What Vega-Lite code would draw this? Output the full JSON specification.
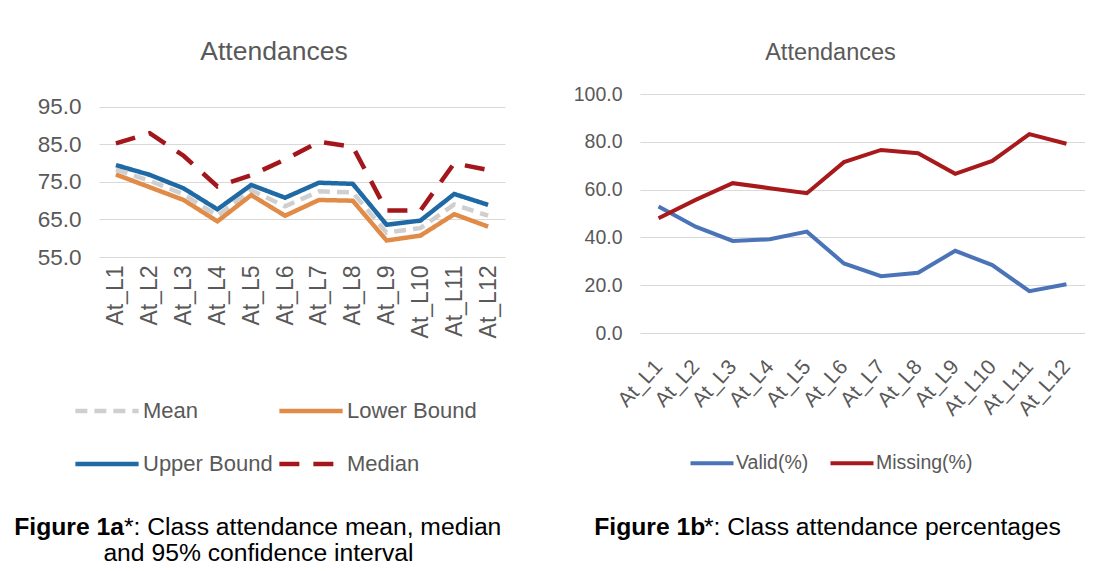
{
  "$schema": "https://vega.github.io/schema/vega-lite/v6.json",
  "background": "white",
  "padding": {"left": 14, "top": 38, "right": 0, "bottom": 0},
  "datasets": {
    "a": [
      {"lesson": "At_L1", "series": "Mean", "value": 78.3},
      {"lesson": "At_L2", "series": "Mean", "value": 75.3},
      {"lesson": "At_L3", "series": "Mean", "value": 71.7},
      {"lesson": "At_L4", "series": "Mean", "value": 66.0},
      {"lesson": "At_L5", "series": "Mean", "value": 72.8},
      {"lesson": "At_L6", "series": "Mean", "value": 68.5},
      {"lesson": "At_L7", "series": "Mean", "value": 72.5},
      {"lesson": "At_L8", "series": "Mean", "value": 72.2},
      {"lesson": "At_L9", "series": "Mean", "value": 61.5},
      {"lesson": "At_L10", "series": "Mean", "value": 62.7},
      {"lesson": "At_L11", "series": "Mean", "value": 69.0},
      {"lesson": "At_L12", "series": "Mean", "value": 66.0},
      {"lesson": "At_L1", "series": "Lower Bound", "value": 77.0},
      {"lesson": "At_L2", "series": "Lower Bound", "value": 73.6},
      {"lesson": "At_L3", "series": "Lower Bound", "value": 70.2},
      {"lesson": "At_L4", "series": "Lower Bound", "value": 64.5},
      {"lesson": "At_L5", "series": "Lower Bound", "value": 71.5},
      {"lesson": "At_L6", "series": "Lower Bound", "value": 66.0},
      {"lesson": "At_L7", "series": "Lower Bound", "value": 70.2},
      {"lesson": "At_L8", "series": "Lower Bound", "value": 70.0},
      {"lesson": "At_L9", "series": "Lower Bound", "value": 59.4},
      {"lesson": "At_L10", "series": "Lower Bound", "value": 60.7},
      {"lesson": "At_L11", "series": "Lower Bound", "value": 66.4},
      {"lesson": "At_L12", "series": "Lower Bound", "value": 63.1},
      {"lesson": "At_L1", "series": "Upper Bound", "value": 79.5},
      {"lesson": "At_L2", "series": "Upper Bound", "value": 76.9},
      {"lesson": "At_L3", "series": "Upper Bound", "value": 73.3},
      {"lesson": "At_L4", "series": "Upper Bound", "value": 67.7},
      {"lesson": "At_L5", "series": "Upper Bound", "value": 74.2},
      {"lesson": "At_L6", "series": "Upper Bound", "value": 70.8},
      {"lesson": "At_L7", "series": "Upper Bound", "value": 74.8},
      {"lesson": "At_L8", "series": "Upper Bound", "value": 74.5},
      {"lesson": "At_L9", "series": "Upper Bound", "value": 63.6},
      {"lesson": "At_L10", "series": "Upper Bound", "value": 64.7},
      {"lesson": "At_L11", "series": "Upper Bound", "value": 71.8},
      {"lesson": "At_L12", "series": "Upper Bound", "value": 68.9},
      {"lesson": "At_L1", "series": "Median", "value": 85.3},
      {"lesson": "At_L2", "series": "Median", "value": 88.0},
      {"lesson": "At_L3", "series": "Median", "value": 82.0},
      {"lesson": "At_L4", "series": "Median", "value": 73.8},
      {"lesson": "At_L5", "series": "Median", "value": 76.8},
      {"lesson": "At_L6", "series": "Median", "value": 81.0},
      {"lesson": "At_L7", "series": "Median", "value": 85.7},
      {"lesson": "At_L8", "series": "Median", "value": 84.4},
      {"lesson": "At_L9", "series": "Median", "value": 67.4},
      {"lesson": "At_L10", "series": "Median", "value": 67.4},
      {"lesson": "At_L11", "series": "Median", "value": 80.0},
      {"lesson": "At_L12", "series": "Median", "value": 78.2}
    ],
    "b": [
      {"lesson": "At_L1", "series": "Valid(%)", "value": 52.9},
      {"lesson": "At_L2", "series": "Valid(%)", "value": 44.5},
      {"lesson": "At_L3", "series": "Valid(%)", "value": 38.5},
      {"lesson": "At_L4", "series": "Valid(%)", "value": 39.2},
      {"lesson": "At_L5", "series": "Valid(%)", "value": 42.4},
      {"lesson": "At_L6", "series": "Valid(%)", "value": 29.1},
      {"lesson": "At_L7", "series": "Valid(%)", "value": 23.8},
      {"lesson": "At_L8", "series": "Valid(%)", "value": 25.2},
      {"lesson": "At_L9", "series": "Valid(%)", "value": 34.4},
      {"lesson": "At_L10", "series": "Valid(%)", "value": 28.4},
      {"lesson": "At_L11", "series": "Valid(%)", "value": 17.5},
      {"lesson": "At_L12", "series": "Valid(%)", "value": 20.4},
      {"lesson": "At_L1", "series": "Missing(%)", "value": 48.0},
      {"lesson": "At_L2", "series": "Missing(%)", "value": 55.7},
      {"lesson": "At_L3", "series": "Missing(%)", "value": 62.7},
      {"lesson": "At_L4", "series": "Missing(%)", "value": 60.6},
      {"lesson": "At_L5", "series": "Missing(%)", "value": 58.5},
      {"lesson": "At_L6", "series": "Missing(%)", "value": 71.5},
      {"lesson": "At_L7", "series": "Missing(%)", "value": 76.6},
      {"lesson": "At_L8", "series": "Missing(%)", "value": 75.2},
      {"lesson": "At_L9", "series": "Missing(%)", "value": 66.6},
      {"lesson": "At_L10", "series": "Missing(%)", "value": 72.0},
      {"lesson": "At_L11", "series": "Missing(%)", "value": 83.2},
      {"lesson": "At_L12", "series": "Missing(%)", "value": 79.2}
    ]
  },
  "config": {
    "font": "Liberation Sans",
    "view": {"stroke": null},
    "axis": {"labelColor": "#595959", "ticks": false, "domain": false, "gridColor": "#d9d9d9", "gridWidth": 1.2, "title": null},
    "legend": {"labelColor": "#595959", "labelFont": "Liberation Sans"},
    "title": {"font": "Liberation Sans", "fontWeight": "normal", "color": "#595959"}
  },
  "hconcat": [
    {
      "title": {
        "text": "Figure 1a",
        "subtitle": ["\u200b\u00a0\u00a0\u00a0\u00a0\u00a0\u00a0\u00a0\u00a0\u00a0\u00a0\u00a0\u00a0\u00a0\u00a0\u00a0\u00a0*: Class attendance mean, median", "\u200b\u00a0\u00a0\u00a0\u00a0\u00a0\u00a0\u00a0\u00a0\u00a0\u00a0\u00a0\u00a0\u00a0and 95% confidence interval"],
        "orient": "bottom", "anchor": "start", "align": "left", "dx": -23, "offset": 40,
        "fontSize": 24.7, "fontWeight": "bold", "color": "#000000",
        "subtitleFontSize": 24.7, "subtitleFontWeight": "normal", "subtitleColor": "#000000", "subtitleFont": "Liberation Sans", "subtitleLineHeight": 26, "subtitlePadding": -24.7
      },
      "vconcat": [
        {
          "width": 406,
          "height": 163,
          "data": {"name": "a"},
          "title": {"text": "Attendances", "fontSize": 26.5, "dx": -28, "offset": 29},
          "mark": {"type": "line", "strokeWidth": 4.5},
          "encoding": {
            "x": {"field": "lesson", "type": "ordinal", "sort": ["At_L1","At_L2","At_L3","At_L4","At_L5","At_L6","At_L7","At_L8","At_L9","At_L10","At_L11","At_L12"], "scale": {"type": "point", "padding": 0.5}, "axis": {"labelAngle": -90, "labelFontSize": 23, "labelPadding": 8, "grid": false}},
            "y": {"field": "value", "type": "quantitative", "scale": {"domain": [55, 98.45], "zero": false, "nice": false}, "axis": {"values": [55, 65, 75, 85, 95], "format": ".1f", "labelFontSize": 22.5, "labelPadding": 18}},
            "color": {"field": "series", "type": "nominal", "scale": {"domain": ["Mean", "Lower Bound", "Upper Bound", "Median"], "range": ["#cfcfcf", "#e08b47", "#1f6aa5", "#a3161b"]},
              "legend": {"orient": "none", "legendX": -26, "legendY": 283, "columns": 2, "direction": "horizontal", "title": null, "symbolType": "stroke", "symbolSize": 4000, "symbolStrokeWidth": 4.5, "labelFontSize": 22, "labelOffset": 2, "rowPadding": 8, "columnPadding": -3}},
            "strokeDash": {"field": "series", "type": "nominal", "scale": {"domain": ["Mean", "Lower Bound", "Upper Bound", "Median"], "range": [[12, 7], [1, 0], [1, 0], [20, 14]]}, "legend": {"orient": "none", "legendX": -26, "legendY": 283, "columns": 2, "direction": "horizontal", "title": null, "symbolType": "stroke", "symbolSize": 4000, "symbolStrokeWidth": 4.5, "labelFontSize": 22, "labelOffset": 2, "rowPadding": 8, "columnPadding": -3}}
          }
        }
      ]
    },
    {
      "title": {
        "text": "Figure 1b",
        "subtitle": "\u200b\u00a0\u00a0\u00a0\u00a0\u00a0\u00a0\u00a0\u00a0\u00a0\u00a0\u00a0\u00a0\u00a0\u00a0\u00a0\u00a0*: Class attendance percentages",
        "orient": "bottom", "anchor": "start", "align": "left", "dx": 21, "offset": 42,
        "fontSize": 24.7, "fontWeight": "bold", "color": "#000000",
        "subtitleFontSize": 24.7, "subtitleFontWeight": "normal", "subtitleColor": "#000000", "subtitleFont": "Liberation Sans", "subtitlePadding": -24.7
      },
      "vconcat": [
        {
          "width": 445,
          "height": 239,
          "data": {"name": "b"},
          "title": {"text": "Attendances", "fontSize": 23.5, "dx": -32, "offset": 20},
          "mark": {"type": "line", "strokeWidth": 4},
          "encoding": {
            "x": {"field": "lesson", "type": "ordinal", "sort": ["At_L1","At_L2","At_L3","At_L4","At_L5","At_L6","At_L7","At_L8","At_L9","At_L10","At_L11","At_L12"], "scale": {"type": "point", "padding": 0.5}, "axis": {"labelAngle": -48, "labelFontSize": 21, "labelPadding": 30, "grid": false}},
            "y": {"field": "value", "type": "quantitative", "scale": {"domain": [0, 100], "nice": false}, "axis": {"values": [0, 20, 40, 60, 80, 100], "format": ".1f", "labelFontSize": 19.5, "labelPadding": 18}},
            "color": {"field": "series", "type": "nominal", "scale": {"domain": ["Valid(%)", "Missing(%)"], "range": ["#4a73b8", "#a8191c"]},
              "legend": {"orient": "none", "legendX": 48, "legendY": 345, "direction": "horizontal", "title": null, "symbolType": "stroke", "symbolSize": 1850, "symbolStrokeWidth": 4, "labelFontSize": 19.5, "labelOffset": 0, "columnPadding": 13}}
          }
        }
      ]
    }
  ],
  "spacing": 68,
  "resolve": {"scale": {"color": "independent", "strokeDash": "independent", "x": "independent", "y": "independent"}}
}
